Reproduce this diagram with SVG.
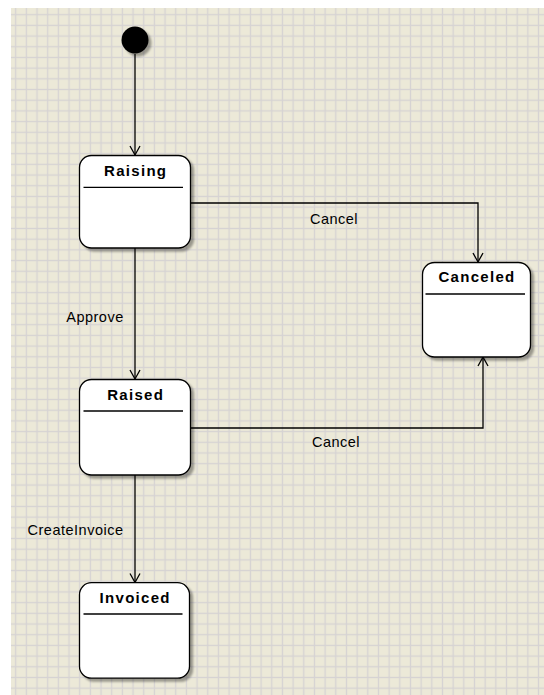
<svg xmlns="http://www.w3.org/2000/svg" width="544" height="695" viewBox="0 0 544 695">
  <style>
    .state { fill: #ffffff; stroke: #000000; stroke-width: 1.3; }
    .divider { stroke: #000000; stroke-width: 1.3; }
    .title { font-family: "Liberation Sans", Arial, sans-serif; font-size: 15px; font-weight: bold; letter-spacing: 1.3px; text-anchor: middle; fill: #000000; }
    .edge { fill: none; stroke: #000000; stroke-width: 1.3; marker-end: url(#arrow); }
    .label { font-family: "Liberation Sans", Arial, sans-serif; font-size: 14.5px; letter-spacing: 0.5px; text-anchor: middle; fill: #000000; }
  </style>
  <defs>
    <pattern id="grid" patternUnits="userSpaceOnUse" x="10.35" y="9.35" width="10.67" height="10.69">
      <rect width="10.67" height="10.69" fill="#ece9d8"/>
      <line x1="5.33" y1="0" x2="5.33" y2="10.69" stroke="#d6d3d3" stroke-width="1.3"/>
      <line x1="0" y1="5.33" x2="10.67" y2="5.33" stroke="#d6d3d3" stroke-width="1.3"/>
    </pattern>
    <filter id="shadow" x="-20%" y="-20%" width="140%" height="140%">
      <feDropShadow dx="3" dy="3" stdDeviation="1.2" flood-color="#000000" flood-opacity="0.35"/>
    </filter>
    <marker id="arrow" markerUnits="userSpaceOnUse" markerWidth="14" markerHeight="14" refX="0" refY="0" viewBox="-10 -7 12 14" orient="auto">
      <path d="M-9,-5 L0,0 L-9,5" fill="none" stroke="#000000" stroke-width="1.3"/>
    </marker>
  </defs>

  <!-- canvas -->
  <rect x="11" y="8" width="533" height="687" fill="url(#grid)"/>

  <!-- transitions -->
  <g id="connectors">
    <path class="edge" d="M135,54 L135,155"/>
    <path class="edge" d="M135,248 L135,379"/>
    <path class="edge" d="M135,475 L135,582.5"/>
    <path class="edge" d="M190.5,203 L478,203 L478,262"/>
    <path class="edge" d="M190,428 L483,428 L483,357"/>
    <text class="label" x="334" y="223.5">Cancel</text>
    <text class="label" x="95" y="322">Approve</text>
    <text class="label" x="336" y="447">Cancel</text>
    <text class="label" x="75.5" y="535">CreateInvoice</text>
  </g>

  <!-- initial pseudo-state -->
  <g id="initial">
    <circle cx="135" cy="40" r="13.5" fill="#000000" filter="url(#shadow)"/>
  </g>

  <g id="raising">
    <rect class="state" x="79.5" y="155.5" width="111" height="92.5" rx="12" filter="url(#shadow)"/>
    <line class="divider" x1="83.5" y1="187.3" x2="183" y2="187.3"/>
    <text class="title" x="135.7" y="175.7">Raising</text>
  </g>

  <g id="raised">
    <rect class="state" x="79.5" y="379.5" width="111" height="95.5" rx="12" filter="url(#shadow)"/>
    <line class="divider" x1="83.5" y1="411" x2="183" y2="411"/>
    <text class="title" x="135.7" y="399.5">Raised</text>
  </g>

  <g id="invoiced">
    <rect class="state" x="79.5" y="582.7" width="110" height="95.5" rx="12" filter="url(#shadow)"/>
    <line class="divider" x1="83.5" y1="614" x2="182.5" y2="614"/>
    <text class="title" x="135.2" y="603.3">Invoiced</text>
  </g>

  <g id="canceled">
    <rect class="state" x="422.5" y="262.5" width="108" height="94.5" rx="12" filter="url(#shadow)"/>
    <line class="divider" x1="425.5" y1="294" x2="525" y2="294"/>
    <text class="title" x="477" y="282.3">Canceled</text>
  </g>
</svg>
